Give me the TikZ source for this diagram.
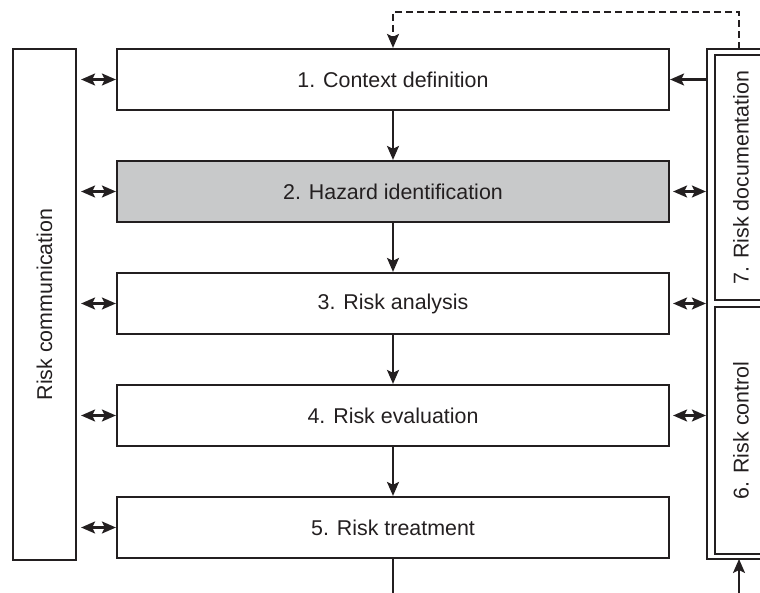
\documentclass[tikz,border=0pt]{standalone}
\usepackage{fontspec}
\setmainfont{Liberation Sans}
\usetikzlibrary{arrows.meta}
\definecolor{ink}{HTML}{231F20}
\definecolor{boxgray}{HTML}{C8C9CA}
\tikzset{
  stepbox/.style={draw=ink, line width=2.2pt, minimum width=552pt, minimum height=61pt, inner sep=0pt, text=ink, font=\fontsize{21.4}{25}\selectfont},
  sidebox/.style={draw=ink, line width=2.2pt, inner sep=0pt, text=ink, font=\fontsize{21.4}{25}\selectfont},
  tip/.style={-{Stealth[length=14pt,width=12pt,inset=3pt]}},
  dtip/.style={{Stealth[length=14pt,width=12pt,inset=3pt]}-{Stealth[length=14pt,width=12pt,inset=3pt]}},
  conn/.style={draw=ink, line width=2.2pt}
}
\begin{document}
\begin{tikzpicture}[x=1pt,y=-1pt]
\useasboundingbox (0,0) rectangle (760,593);
% main steps
\node[stepbox] (s1) at (393,79.5) {1. Context definition};
\node[stepbox, fill=boxgray] (s2) at (393,191.5) {2. Hazard identification};
\node[stepbox] (s3) at (393,303.5) {3. Risk analysis};
\node[stepbox] (s4) at (393,415.5) {4. Risk evaluation};
\node[stepbox] (s5) at (393,527.5) {5. Risk treatment};
% risk communication
\node[sidebox, minimum width=63pt, minimum height=511pt] (comm) at (44.5,304.5) {};
\node[text=ink, font=\fontsize{21.4}{25}\selectfont, rotate=90] (commt) at (44.5,304.5) {Risk communication};
% right outer and inner boxes
\node[sidebox, minimum width=70pt, minimum height=510pt] (outer) at (742,304) {};
\node[sidebox, minimum width=54pt, minimum height=245pt] (doc) at (742,177.5) {};
\node[text=ink, font=\fontsize{21.4}{25}\selectfont, rotate=90] (doct) at (741,177.5) {7. Risk documentation};
\node[sidebox, minimum width=54pt, minimum height=247pt] (ctrl) at (742,430.5) {};
\node[text=ink, font=\fontsize{21.4}{25}\selectfont, rotate=90] (ctrlt) at (741,430.5) {6. Risk control};
% coordinates
\coordinate (dtop) at (739,49);
\coordinate (dc1) at (739,12);
\coordinate (dc2) at (393,12);
\coordinate (bot) at (393,593);
\coordinate (botr) at (739,593);
\coordinate (outbot) at (739,559);
% vertical flow
\draw[conn, tip] (s1.south) -- (s2.north);
\draw[conn, tip] (s2.south) -- (s3.north);
\draw[conn, tip] (s3.south) -- (s4.north);
\draw[conn, tip] (s4.south) -- (s5.north);
\draw[conn] (s5.south) -- (bot);
% dashed feedback
\draw[conn, tip, dash pattern=on 7pt off 4pt] (dtop) -- (dc1) -- (dc2) -- (s1.north);
% bottom right arrow
\draw[conn, tip] (botr) -- (outbot);
% left double arrows
\foreach \s in {s1,s2,s3,s4,s5}{
  \draw[conn, dtip] ([xshift=4pt]comm.east |- \s.west) -- (\s.west);
}
% right arrows
\draw[conn, tip] (outer.west |- s1.east) -- (s1.east);
\foreach \s in {s2,s3,s4}{
  \draw[conn, dtip] ([xshift=3pt]\s.east) -- (outer.west |- \s.east);
}
\end{tikzpicture}
\end{document}
